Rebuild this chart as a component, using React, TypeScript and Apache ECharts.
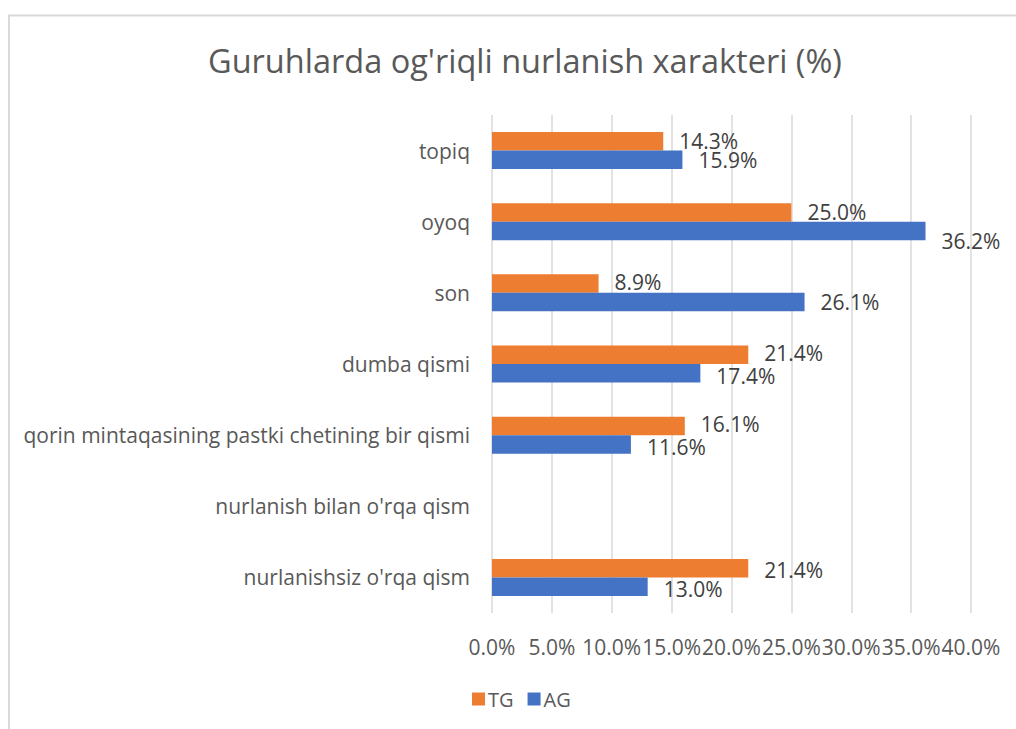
import React, { useEffect, useRef } from "react";
import * as echarts from "echarts";

const categories = [
  "nurlanishsiz o'rqa qism",
  "nurlanish bilan o'rqa qism",
  "qorin mintaqasining pastki chetining bir qismi",
  "dumba qismi",
  "son",
  "oyoq",
  "topiq",
];
const tgValues: (number | null)[] = [21.4, null, 16.1, 21.4, 8.9, 25.0, 14.3];
const agValues: (number | null)[] = [13.0, null, 11.6, 17.4, 26.1, 36.2, 15.9];
const agLabelShift = [2, 0, 3, 3, 0, 10, 0];
const tgLabelShift = [2, 0, -2, -2, -2, 0, 0];
const xTicks = { min: 0, max: 40, interval: 5 };
const title = "Guruhlarda og'riqli nurlanish xarakteri (%)";

const FONT = "'Open Sans', 'Noto Sans', sans-serif";

export default function App() {
  const ref = useRef<HTMLDivElement>(null);
  useEffect(() => {
    if (!ref.current) return;
    const chart = echarts.init(ref.current, undefined, { renderer: "svg" });
    const labelBase = {
      show: true,
      position: "right",
      distance: 16,
      color: "#404040",
      fontSize: 21,
      fontFamily: FONT,
      formatter: (p: any) => `${Number(p.value).toFixed(1)}%`,
    };
    chart.setOption({
      animation: false,
      backgroundColor: "#ffffff",
      title: {
        text: title,
        left: 203,
        top: 39,
        textStyle: { color: "#595959", fontSize: 32.5, fontWeight: "normal", fontFamily: FONT },
      },
      graphic: [
        {
          type: "rect",
          shape: { x: 9, y: 15.5, width: 1200, height: 900 },
          style: { fill: "none", stroke: "#D9D9D9", lineWidth: 2 },
          silent: true,
        },
      ],
      legend: {
        data: ["TG", "AG"],
        left: 467,
        top: 684,
        icon: "rect",
        itemWidth: 13,
        itemHeight: 13,
        itemGap: 14,
        itemStyle: { borderWidth: 0 },
        textStyle: { color: "#595959", fontSize: 20, fontFamily: FONT, padding: [0, 0, 0, -2] },
      },
      grid: { left: 492, right: 45, top: 115, bottom: 116, containLabel: false },
      xAxis: {
        type: "value",
        min: xTicks.min,
        max: xTicks.max,
        interval: xTicks.interval,
        axisLine: { show: false },
        axisTick: { show: false },
        splitLine: { lineStyle: { color: "#D9D9D9", width: 1.5 } },
        axisLabel: {
          color: "#595959",
          fontSize: 21,
          fontFamily: FONT,
          margin: 23,
          formatter: (v: number) => `${v.toFixed(1)}%`,
        },
      },
      yAxis: {
        type: "category",
        data: categories,
        axisLine: { show: false },
        axisTick: { show: false },
        axisLabel: { color: "#595959", fontSize: 21, fontFamily: FONT, margin: 22 },
      },
      series: [
        {
          name: "TG",
          type: "bar",
          data: tgValues.map((v, i) => ({
            value: v,
            label: { offset: [0, tgLabelShift[i]] },
          })),
          itemStyle: { color: "#ED7D31" },
          barGap: "0%",
          barCategoryGap: "48%",
          label: labelBase,
        },
        {
          name: "AG",
          type: "bar",
          data: agValues.map((v, i) => ({
            value: v,
            label: { offset: [0, agLabelShift[i]] },
          })),
          itemStyle: { color: "#4472C4" },
          barGap: "0%",
          barCategoryGap: "48%",
          label: labelBase,
        },
      ],
    });
    return () => chart.dispose();
  }, []);
  return (
    <div
      ref={ref}
      style={{ position: "fixed", left: 0, top: 0, width: 1016, height: 729 }}
    />
  );
}
